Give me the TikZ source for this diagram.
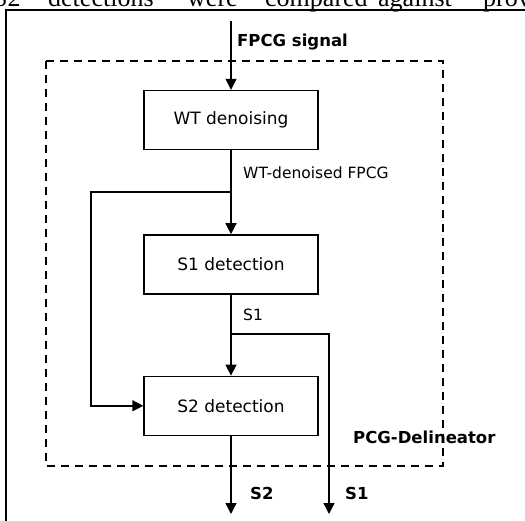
\documentclass[tikz,border=0pt]{standalone}
\usepackage{fontspec}
\setmainfont{DejaVu Sans}
\newfontfamily\paperfont{Liberation Serif}
\usetikzlibrary{arrows.meta}
\usetikzlibrary{positioning}

\tikzset{
	block/.style={draw, line width=1.4pt, minimum width=174pt, minimum height=59pt,
		inner sep=0pt, font=\fontsize{17}{20}\selectfont},
	lbl/.style={anchor=west, inner sep=0pt, font=\fontsize{15.5}{18}\selectfont},
	boldlbl/.style={anchor=west, inner sep=0pt, font=\fontsize{16.5}{19}\selectfont\bfseries},
	papertext/.style={anchor=base west, inner sep=0pt, font=\fontsize{26}{30}\paperfont},
	flow/.style={line width=1.4pt, -{Triangle[length=11pt,width=11pt]}},
	wire/.style={line width=1.4pt},
}

\begin{document}
\begin{tikzpicture}[x=1pt, y=-1pt]
	\clip (0,0) rectangle (525,521);
	
	\foreach \w/\x [count=\i] in {S2/-7, detections/48, were/187, compared/265, against/378, prov/483}{
		\node[papertext] (word\i) at (\x,7) {\w};
	}
	
	\draw[wire]
		(6,540) |- (540,10);
	
	\draw[line width=1.4pt, dash pattern=on 8pt off 6pt]
		(46,61) rectangle (443,466);
	
	\node[block] (wt) at (231,120) {WT denoising};
	\node[block, below=84pt of wt] (sone) {S1 detection};
	\node[block, below=81pt of sone] (stwo) {S2 detection};
	
	\coordinate (in) at (231,21);
	\coordinate (fb) at (231,192);
	\coordinate (fbl) at (91,192);
	\coordinate (sb) at (231,334);
	\coordinate (soneout) at (329,514);
	\coordinate (stwoout) at (231,514);
	
	\draw[flow] (in) -- (wt.north);
	\draw[flow] (wt.south) -- (sone.north);
	\draw[flow] (fb) -- (fbl) |- (stwo.west);
	\draw[flow] (sone.south) -- (stwo.north);
	\draw[flow] (sb) -| (soneout);
	\draw[flow] (stwo.south) -- (stwoout);
	
	\node[boldlbl] (fpcg) at (237,42) {FPCG signal};
	\node[lbl] (wtlbl) at (243,173) {WT-denoised FPCG};
	\node[lbl] (sonelbl) at (243,315) {S1};
	\node[boldlbl] (stwoname) at (250,493) {S2};
	\node[boldlbl] (sonename) at (345,493) {S1};
	\node[boldlbl] (pcgd) at (353,437) {PCG-Delineator};
\end{tikzpicture}
\end{document}
